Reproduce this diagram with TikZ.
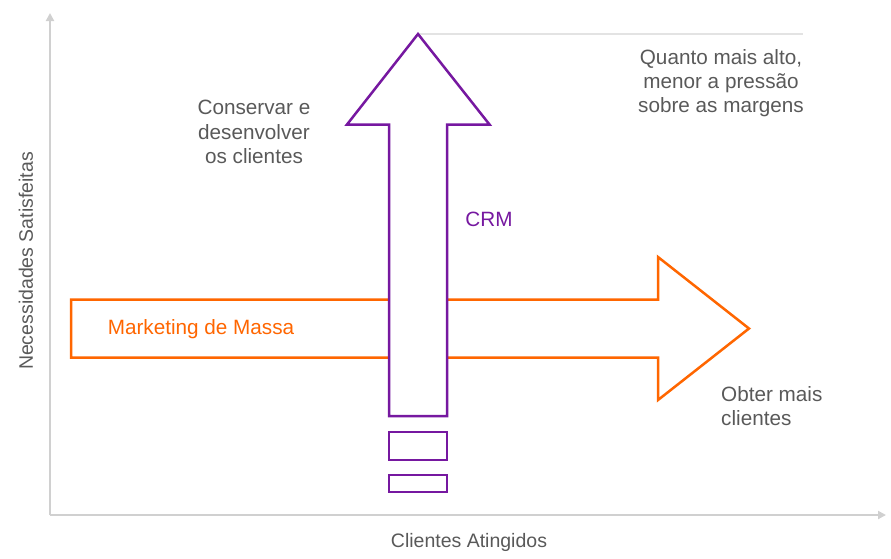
\documentclass[tikz,border=0pt]{standalone}
\usepackage{fontspec}
\setmainfont{Liberation Sans}
\usetikzlibrary{arrows.meta}
\definecolor{crmpurple}{RGB}{118,24,160}
\definecolor{massorange}{RGB}{255,102,0}
\definecolor{axisgray}{RGB}{208,208,208}
\definecolor{txtgray}{RGB}{89,89,89}
\begin{document}
\begin{tikzpicture}[x=1pt,y=-1pt,
        txt/.style={text=txtgray,inner sep=0pt,align=center,
            font=\fontsize{20.7}{24.3}\selectfont},
        axlabel/.style={text=txtgray,inner sep=0pt,
            font=\fontsize{19.5}{23}\selectfont},
        axis/.style={draw=axisgray,line width=2pt,
            -{Triangle[length=8pt,width=8pt]}}]
    \useasboundingbox (0,0) rectangle (891,558);

    % axes
    \coordinate (origin) at (50,515);
    \coordinate (ytop) at (50,13);
    \coordinate (xend) at (886,515);
    \draw[axis] (origin) -- (ytop);
    \draw[axis] (origin) -- (xend);

    % thin line from the tip of CRM
    \coordinate (crmtip) at (418,34);
    \coordinate (lineend) at (803,34);
    \draw[axisgray!60,line width=2.5pt] (crmtip) -- (lineend);

    % mass marketing arrow
    \draw[massorange,line width=2.5pt,fill=white,line join=miter]
        (71,299.5) -- (658,299.5) -- (658,257) -- (749,328.5)
        -- (658,400) -- (658,357.5) -- (71,357.5) -- cycle;

    % CRM arrow
    \draw[crmpurple,line width=2.5pt,fill=white,line join=miter]
        (389,416) -- (389,124.5) -- (347,124.5) -- (crmtip)
        -- (489.5,124.5) -- (447,124.5) -- (447,416) -- cycle;
    \draw[crmpurple,line width=2.5pt] (389,432) rectangle (447,460);
    \draw[crmpurple,line width=2.5pt] (389,475) rectangle (447,492);

    % labels
    \node[txt] (pressao) at (721,83) {Quanto mais alto,\\menor a press\~ao\\sobre as margens};
    \node[txt] (conservar) at (254,132) {Conservar e\\desenvolver\\os clientes};
    \node[txt,text=crmpurple] (crm) at (489,219) {CRM};
    \node[txt,text=massorange] (massa) at (201,329) {Marketing de Massa};
    \node[txt,align=left,anchor=west] (obter) at (721,406) {Obter mais\\clientes};
    \node[axlabel] (xlabel) at (469,542) {Clientes Atingidos};
    \node[axlabel,rotate=90] (ylabel) at (26,261) {Necessidades Satisfeitas};
\end{tikzpicture}
\end{document}
